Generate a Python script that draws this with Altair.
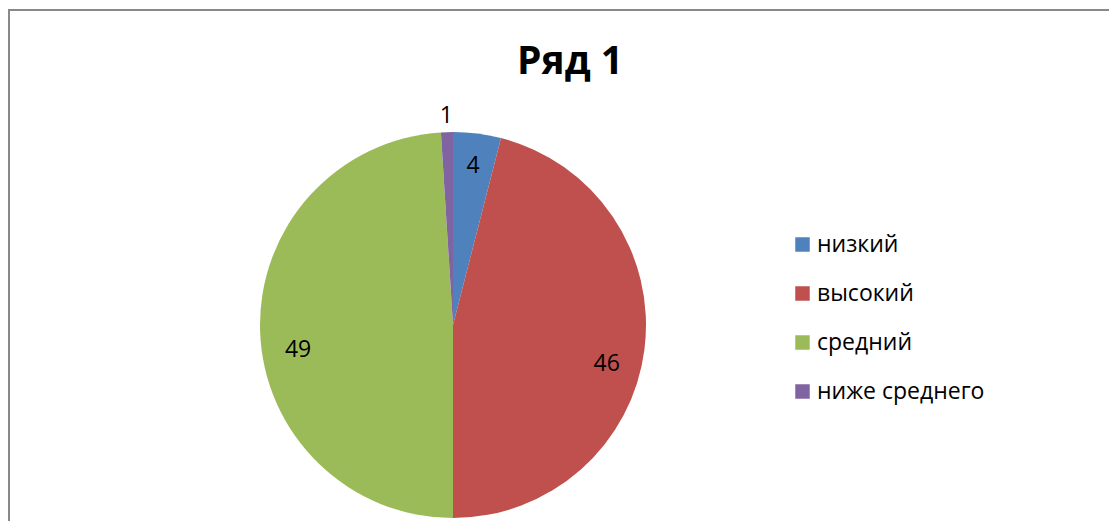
import altair as alt
import pandas as pd

categories = ["низкий", "высокий", "средний", "ниже среднего"]
values = [4, 46, 49, 1]
colors = ["#4F81BD", "#C0504D", "#9BBB59", "#8064A2"]
title_text = "Ряд 1"

df = pd.DataFrame({"category": categories, "value": values, "idx": list(range(len(values)))})

CX, CY, R = 443, 314, 193

base = alt.Chart(df)

color = alt.Color(
    "category:N",
    scale=alt.Scale(domain=categories, range=colors),
    sort=categories,
    legend=alt.Legend(
        title=None, orient="none", legendX=781, legendY=222,
        symbolType="square", symbolSize=210, symbolStrokeWidth=0,
        labelFontSize=23, labelFont="Open Sans", labelColor="#000000",
        labelLimit=400, rowPadding=25, labelOffset=3,
    ),
)

arcs = base.mark_arc(outerRadius=R).encode(
    theta=alt.Theta("value:Q", stack=True),
    color=color,
    order=alt.Order("idx:Q"),
    x=alt.value(CX), y=alt.value(CY),
)

lab = base.transform_window(
    cum="sum(value)", sort=[alt.SortField("idx")], frame=[None, 0]
).transform_calculate(mid="datum.cum - datum.value / 2")

def label_layer(cond, radius, dy):
    return lab.transform_filter(cond).mark_text(
        radius=radius, dy=dy, fontSize=23, font="Open Sans", color="#000000"
    ).encode(
        theta=alt.Theta("mid:Q", stack=False),
        text="value:Q",
        x=alt.value(CX), y=alt.value(CY),
    )

big = label_layer("datum.value >= 10", 155, 20)
mid = label_layer("datum.value >= 2 && datum.value < 10", 160, 0)
small = label_layer("datum.value < 2", 209, 0)

title = alt.Chart(pd.DataFrame({"t": [title_text]})).mark_text(
    fontSize=39, fontWeight="bold", font="Open Sans", color="#000000"
).encode(text="t:N", x=alt.value(560), y=alt.value(51))

border_df = pd.DataFrame({"a": [0]})
top_line = alt.Chart(border_df).mark_rule(color="#898989", strokeWidth=2).encode(
    x=alt.value(-2), x2=alt.value(1200), y=alt.value(-1)
)
left_line = alt.Chart(border_df).mark_rule(color="#898989", strokeWidth=2).encode(
    x=alt.value(-1), y=alt.value(-2), y2=alt.value(600)
)

chart = alt.layer(arcs, big, mid, small, title, top_line, left_line).properties(
    width=1099, height=510,
    autosize=alt.AutoSizeParams(type="none"),
    padding={"top": 3, "left": 2, "right": 0, "bottom": 0},
).configure_view(strokeWidth=0)

chart.save("out.html", embed_options={"renderer": "svg", "actions": False})
